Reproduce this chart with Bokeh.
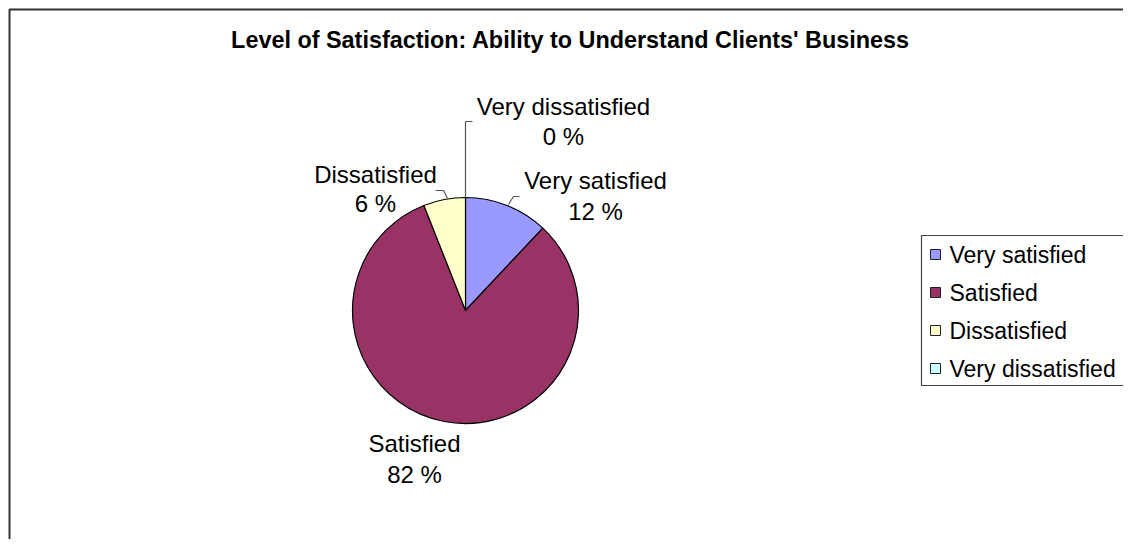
import math
from bokeh.plotting import figure
from bokeh.models import Range1d, ColumnDataSource
from bokeh.core.properties import value
from bokeh.embed import file_html
from bokeh.resources import INLINE

# ---- data ----
title_text = "Level of Satisfaction: Ability to Understand Clients' Business"
categories = ["Very satisfied", "Satisfied", "Dissatisfied", "Very dissatisfied"]
percent = [12, 82, 6, 0]
colors = ["#9999FF", "#993366", "#FFFFCC", "#CCFFFF"]

# ---- layout (image pixels) ----
W, H = 1123, 539
FONT = "Liberation Sans"


def Y(sy):
    return H - sy


p = figure(width=W, height=H, output_backend="svg", toolbar_location=None,
           x_range=Range1d(0, W), y_range=Range1d(0, H), min_border=0)
p.axis.visible = False
p.grid.visible = False
p.outline_line_color = None
p.background_fill_color = "white"
p.border_fill_color = "white"

# chart border (left and top only visible in the window)
p.line([9, 9, 1200], [Y(600), Y(9), Y(9)], line_color="#333333", line_width=2)

# title
p.text(x=[570], y=[Y(39)], text=[title_text], text_font=value(FONT),
       text_font_style="bold", text_font_size="23.4px", text_align="center",
       text_baseline="middle", text_color="black")

# pie
cx, cy, r = 465, Y(310), 113
total = float(sum(percent))
starts, ends, cs = [], [], []
cum = 0.0
for v, c in zip(percent, colors):
    a0 = math.pi / 2 - 2 * math.pi * cum / total
    cum += v
    a1 = math.pi / 2 - 2 * math.pi * cum / total
    if v > 0:
        starts.append(a0)
        ends.append(a1)
        cs.append(c)
src = ColumnDataSource(dict(start=starts, end=ends, color=cs))
p.wedge(x=cx, y=cy, radius=r, start_angle="start", end_angle="end",
        direction="clock", fill_color="color", line_color="black",
        line_width=1.2, source=src)

# data labels
label_pos = {
    "Very satisfied": (595, 180, 211),
    "Satisfied": (414, 443, 474),
    "Dissatisfied": (375, 174, 203),
    "Very dissatisfied": (563, 106, 136),
}
lx, ly, lt = [], [], []
for cat, v in zip(categories, percent):
    x0, y1, y2 = label_pos[cat]
    lx += [x0, x0]
    ly += [Y(y1), Y(y2)]
    lt += [cat, f"{v} %"]
p.text(x=lx, y=ly, text=lt, text_font=value(FONT), text_font_size="24px",
       text_align="center", text_baseline="middle", text_color="black")

# leader lines
leaders = {
    "Very satisfied": ([508, 513, 519], [204, 196, 196]),
    "Dissatisfied": ([447, 443, 435], [198, 190, 190]),
    "Very dissatisfied": ([465, 465, 472], [197, 121, 121]),
}
for cat, (xs, ys) in leaders.items():
    p.line(xs, [Y(v) for v in ys], line_color="#555555", line_width=1.2)

# legend
p.quad(left=[921], right=[1200], top=[Y(235)], bottom=[Y(385)],
       fill_color="white", line_color="#444444", line_width=1.2)
leg_y = [Y(254 + 38 * i) for i in range(len(categories))]
p.rect(x=[935] * len(categories), y=leg_y, width=10, height=10,
       fill_color=colors, line_color="#222222", line_width=1)
p.text(x=[949] * len(categories), y=leg_y, text=categories,
       text_font=value(FONT), text_font_size="23px", text_align="left",
       text_baseline="middle", text_color="black")

open("out.html", "w").write(file_html(p, INLINE))
